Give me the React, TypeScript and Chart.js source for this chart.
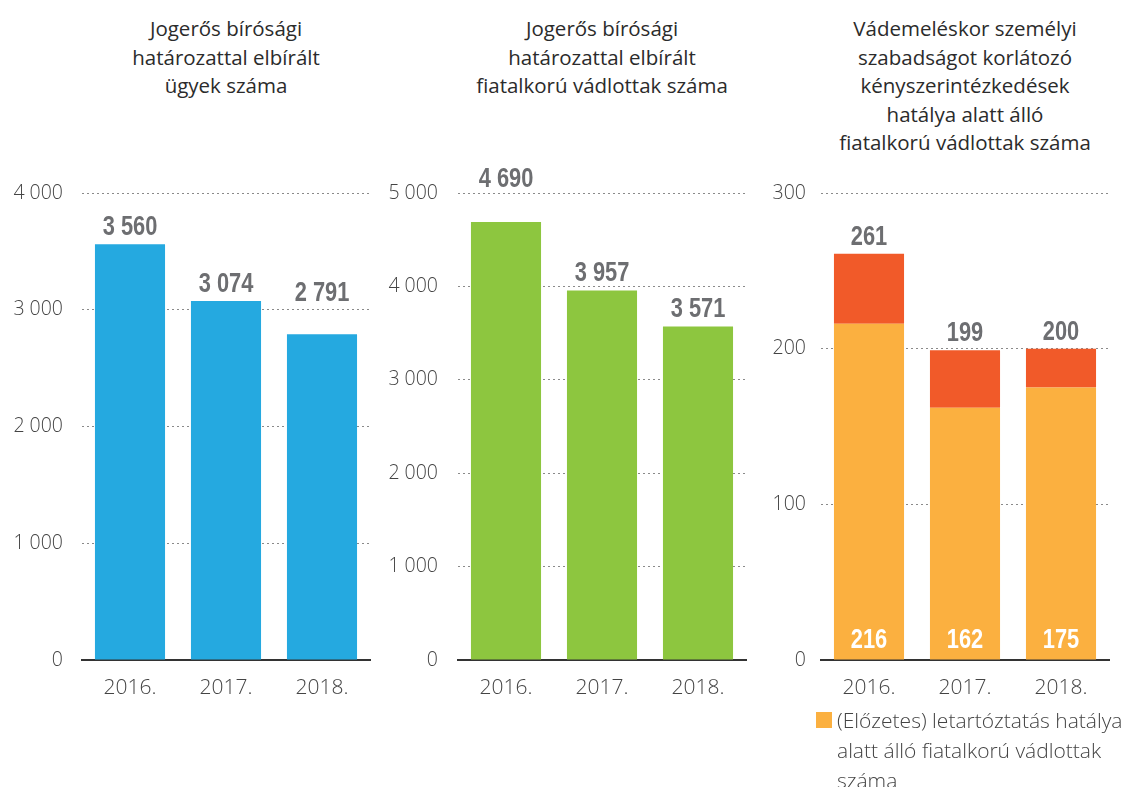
import React, { useEffect, useRef } from 'react';
import { Chart, registerables } from 'chart.js';

Chart.register(...registerables);

// ---------- data ----------
const years = ['2016.', '2017.', '2018.'];
const caseCounts = [3560, 3074, 2791];
const juvenileDefendants = [4690, 3957, 3571];
const arrestDefendants = [216, 162, 175];
const otherRestraintDefendants = [45, 37, 25];
const restraintTotals = [261, 199, 200];

const title1 = ['Jogerős bírósági', 'határozattal elbírált', 'ügyek száma'];
const title2 = ['Jogerős bírósági', 'határozattal elbírált', 'fiatalkorú vádlottak száma'];
const title3 = [
  'Vádemeléskor személyi',
  'szabadságot korlátozó',
  'kényszerintézkedések',
  'hatálya alatt álló',
  'fiatalkorú vádlottak száma',
];
const legendLines = ['(Előzetes) letartóztatás hatálya', 'alatt álló fiatalkorú vádlottak', 'száma'];

// ---------- style ----------
const BLUE = '#25a9e0';
const GREEN = '#8dc63f';
const ORANGE = '#fbb040';
const RED = '#f15a29';
const LABEL_GRAY = '#6d6e71';
const TEXT = '#2b2b2b';
const FONT = '"Open Sans", "Noto Sans", sans-serif';
const NUM_FONT = '"Liberation Sans", Arial, sans-serif';
const NUM_SQUEEZE = 0.78;

const fmt = (v: number) => String(v).replace(/\B(?=(\d{3})+(?!\d))/g, ' ');

const CANVAS_TOP = 160;
const PLOT_TOP = 193;
const PLOT_BOTTOM = 660;
const X_AXIS_H = 50;

type Cfg = {
  left: number;
  plotLeft: number;
  plotRight: number;
  tickPad: number;
  max: number;
  step: number;
  datasets: any[];
  totals: number[];
  lift: number[];
  innerIndex?: number;
};

function drawNarrow(ctx: CanvasRenderingContext2D, text: string, x: number, y: number) {
  ctx.save();
  ctx.translate(x, y);
  ctx.scale(NUM_SQUEEZE, 1);
  ctx.fillText(text, 0, 0);
  ctx.restore();
}

function BarChart({ cfg }: { cfg: Cfg }) {
  const ref = useRef<HTMLCanvasElement | null>(null);
  const width = cfg.plotRight - cfg.left + 8;
  const height = PLOT_BOTTOM - CANVAS_TOP + X_AXIS_H;

  useEffect(() => {
    if (!ref.current) return;
    const valuePlugin = {
      id: 'valueLabels',
      afterDatasetsDraw(chart: any) {
        const ctx = chart.ctx;
        ctx.save();
        ctx.textAlign = 'center';
        ctx.textBaseline = 'alphabetic';
        ctx.font = `bold 28px ${NUM_FONT}`;
        const lastMeta = chart.getDatasetMeta(chart.data.datasets.length - 1);
        lastMeta.data.forEach((bar: any, i: number) => {
          ctx.fillStyle = LABEL_GRAY;
          drawNarrow(ctx, fmt(cfg.totals[i]), bar.x, bar.y - 9 - cfg.lift[i]);
        });
        if (cfg.innerIndex !== undefined) {
          const meta = chart.getDatasetMeta(cfg.innerIndex);
          const vals = chart.data.datasets[cfg.innerIndex].data;
          meta.data.forEach((bar: any, i: number) => {
            ctx.fillStyle = '#ffffff';
            drawNarrow(ctx, fmt(vals[i]), bar.x, bar.base - 12);
          });
        }
        ctx.restore();
      },
    };

    const chart = new Chart(ref.current, {
      type: 'bar',
      data: { labels: years, datasets: cfg.datasets },
      options: {
        animation: false,
        responsive: false,
        maintainAspectRatio: false,
        layout: { padding: { top: PLOT_TOP - CANVAS_TOP, right: 8, left: 0, bottom: 0 } },
        plugins: { legend: { display: false }, tooltip: { enabled: false }, title: { display: false } },
        scales: {
          x: {
            stacked: true,
            grid: { display: false, drawTicks: false },
            border: { display: true, color: '#333333', width: 2 },
            ticks: { color: '#444', font: { family: FONT, size: 21, weight: '300' as any }, padding: 15 },
            afterFit: (s: any) => {
              s.height = X_AXIS_H;
            },
          },
          y: {
            stacked: true,
            min: 0,
            max: cfg.max,
            grid: {
              drawTicks: false,
              color: (c: any) => (c.tick && c.tick.value === 0 ? 'rgba(0,0,0,0)' : '#8a8a8a'),
              lineWidth: 1,
            },
            border: { display: false, dash: [2, 3] },
            ticks: {
              stepSize: cfg.step,
              color: '#444',
              font: { family: FONT, size: 19.5, weight: '300' as any },
              padding: cfg.tickPad,
              callback: (v: any) => fmt(Number(v)),
            },
            afterFit: (s: any) => {
              s.width = cfg.plotLeft - cfg.left;
            },
          },
        },
      },
      plugins: [valuePlugin],
    });
    return () => chart.destroy();
  }, [cfg]);

  return (
    <canvas
      ref={ref}
      width={width}
      height={height}
      style={{ position: 'absolute', left: cfg.left, top: CANVAS_TOP, width, height }}
    />
  );
}

function Title({ lines, center }: { lines: string[]; center: number }) {
  return (
    <div
      style={{
        position: 'absolute',
        top: 14,
        left: center - 190,
        width: 380,
        textAlign: 'center',
        fontFamily: FONT,
        fontSize: 20.5,
        lineHeight: '28.5px',
        color: TEXT,
        whiteSpace: 'nowrap',
      }}
    >
      {lines.map((l, i) => (
        <div key={i}>{l}</div>
      ))}
    </div>
  );
}

const barCommon = { barPercentage: 0.73, categoryPercentage: 1, borderWidth: 0 };

const cfg1: Cfg = {
  left: 0,
  plotLeft: 82,
  plotRight: 370,
  tickPad: 19,
  max: 4000,
  step: 1000,
  datasets: [{ data: caseCounts, backgroundColor: BLUE, ...barCommon }],
  totals: caseCounts,
  lift: [0, 0, 24],
};
const cfg2: Cfg = {
  left: 378,
  plotLeft: 458,
  plotRight: 746,
  tickPad: 20,
  max: 5000,
  step: 1000,
  datasets: [{ data: juvenileDefendants, backgroundColor: GREEN, ...barCommon }],
  totals: juvenileDefendants,
  lift: [26, 0, 0],
};
const cfg3: Cfg = {
  left: 756,
  plotLeft: 821,
  plotRight: 1109,
  tickPad: 15,
  max: 300,
  step: 100,
  datasets: [
    { data: arrestDefendants, backgroundColor: ORANGE, ...barCommon },
    { data: otherRestraintDefendants, backgroundColor: RED, ...barCommon },
  ],
  totals: restraintTotals,
  lift: [0, 0, 0],
  innerIndex: 0,
};

export default function App() {
  return (
    <div
      style={{
        position: 'fixed',
        left: 0,
        top: 0,
        width: 1134,
        height: 787,
        overflow: 'hidden',
        background: '#ffffff',
      }}
    >
      <Title lines={title1} center={226} />
      <Title lines={title2} center={602} />
      <Title lines={title3} center={965} />
      <BarChart cfg={cfg1} />
      <BarChart cfg={cfg2} />
      <BarChart cfg={cfg3} />
      <div style={{ position: 'absolute', left: 816, top: 712, width: 16, height: 16, background: ORANGE }} />
      <div
        style={{
          position: 'absolute',
          left: 837,
          top: 705,
          fontFamily: FONT,
          fontSize: 21,
          lineHeight: '30px',
          color: '#444',
          fontWeight: 300,
          whiteSpace: 'nowrap',
        }}
      >
        {legendLines.map((l, i) => (
          <div key={i}>{l}</div>
        ))}
      </div>
    </div>
  );
}
